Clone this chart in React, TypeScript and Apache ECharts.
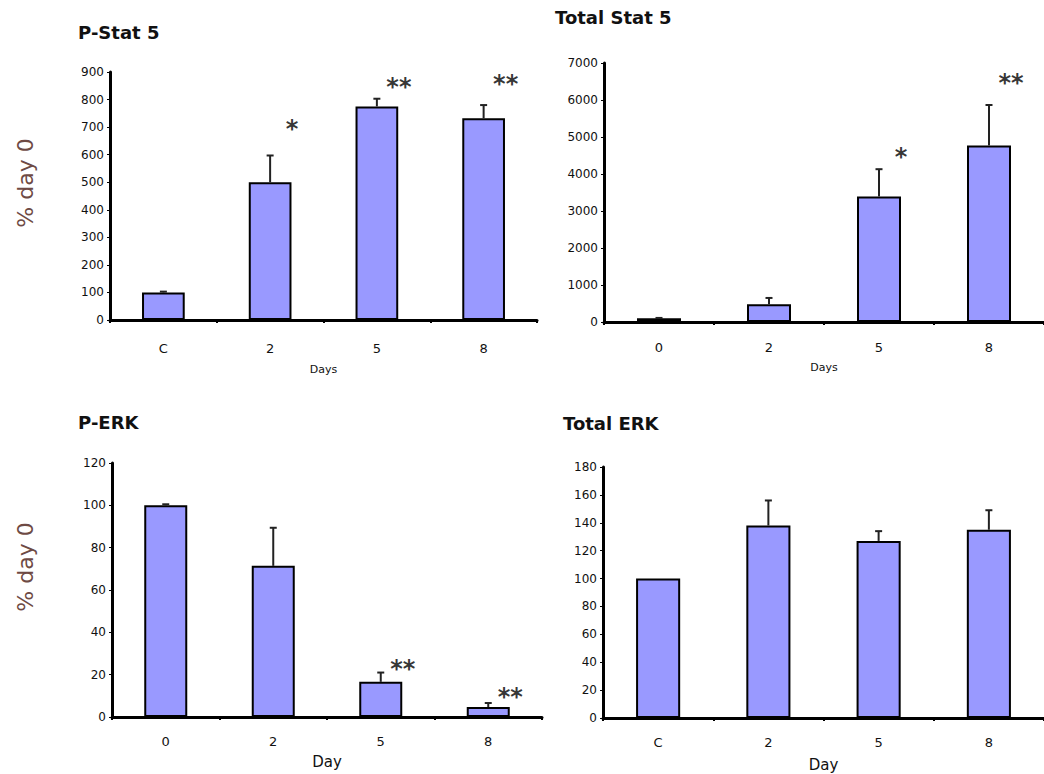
import React, { useEffect, useRef } from 'react';
import * as echarts from 'echarts';

// ---- Data ----
const pStat5Days = ['C', '2', '5', '8'];
const pStat5Mean = [100, 500, 775, 732];
const pStat5Sd = [3, 97, 28, 48];
const pStat5Stars = ['', '*', '**', '**'];
const pStat5StarY = [0, 715, 866, 880];

const totStat5Days = ['0', '2', '5', '8'];
const totStat5Mean = [100, 480, 3390, 4770];
const totStat5Sd = [10, 170, 740, 1095];
const totStat5Stars = ['', '', '*', '**'];
const totStat5StarY = [0, 0, 4610, 6620];

const pErkDays = ['0', '2', '5', '8'];
const pErkMean = [100, 71.4, 16.6, 4.7];
const pErkSd = [0.5, 18, 4.4, 1.9];
const pErkStars = ['', '', '**', '**'];
const pErkStarY = [0, 0, 25.3, 12.3];

const totErkDays = ['C', '2', '5', '8'];
const totErkMean = [100, 138, 127, 135];
const totErkSd = [0, 18, 7, 14];
const totErkStars = ['', '', '', ''];
const totErkStarY = [0, 0, 0, 0];

const yMax = [900, 7000, 120, 180];
const yInterval = [100, 1000, 20, 20];
const titles = ['P-Stat 5', 'Total Stat 5', 'P-ERK', 'Total ERK'];
const xNames = ['Days', 'Days', 'Day', 'Day'];
const yTitle = '% day 0';

const FONT = 'DejaVu Sans';

export default function App() {
  const ref = useRef<HTMLDivElement>(null);

  useEffect(() => {
    if (!ref.current) return;
    const chart = echarts.init(ref.current, null, { renderer: 'svg' });

    const panels = [
      { days: pStat5Days, mean: pStat5Mean, sd: pStat5Sd, stars: pStat5Stars, starY: pStat5StarY },
      { days: totStat5Days, mean: totStat5Mean, sd: totStat5Sd, stars: totStat5Stars, starY: totStat5StarY },
      { days: pErkDays, mean: pErkMean, sd: pErkSd, stars: pErkStars, starY: pErkStarY },
      { days: totErkDays, mean: totErkMean, sd: totErkSd, stars: totErkStars, starY: totErkStarY },
    ];

    const grids = [
      { left: 110, top: 72, width: 427, height: 248 },
      { left: 604, top: 63, width: 442, height: 259 },
      { left: 112, top: 463, width: 430, height: 254 },
      { left: 603, top: 467, width: 443, height: 251 },
    ];
    const labelMargins = [22, 19, 18, 18];
    const nameGaps = [44, 40, 37, 39];
    const nameSizes = [11, 11, 15, 15];
    const titlePos = [
      { left: 78, top: 23 },
      { left: 555, top: 8 },
      { left: 78, top: 413 },
      { left: 563, top: 414 },
    ];

    const xAxis: any[] = [];
    const yAxis: any[] = [];
    const series: any[] = [];
    const titleOpts: any[] = [];

    panels.forEach((p, i) => {
      titleOpts.push({
        text: titles[i],
        left: titlePos[i].left,
        top: titlePos[i].top,
        padding: 0,
        textStyle: { fontFamily: FONT, fontWeight: 'bold', fontSize: 18, color: '#111' },
      });
      xAxis.push({
        type: 'category',
        gridIndex: i,
        data: p.days,
        name: xNames[i],
        nameLocation: 'middle',
        nameGap: nameGaps[i],
        nameTextStyle: { fontFamily: FONT, fontSize: nameSizes[i], color: '#111' },
        axisLine: { show: true, lineStyle: { color: '#000', width: 3 } },
        axisTick: { show: true, length: 3, lineStyle: { color: '#000', width: 2 } },
        axisLabel: { fontFamily: FONT, fontSize: 13, color: '#111', margin: labelMargins[i] },
        z: 5,
      });
      yAxis.push({
        type: 'value',
        gridIndex: i,
        min: 0,
        max: yMax[i],
        interval: yInterval[i],
        splitLine: { show: false },
        axisLine: { show: true, lineStyle: { color: '#000', width: 3 } },
        axisTick: { show: true, length: 3, lineStyle: { color: '#000', width: 1 } },
        axisLabel: {
          fontFamily: FONT,
          fontSize: 12,
          color: '#111',
          margin: 6,
          formatter: (v: number) => String(v),
        },
        z: 5,
      });
      series.push({
        type: 'bar',
        xAxisIndex: i,
        yAxisIndex: i,
        data: p.mean,
        barWidth: '40%',
        itemStyle: { color: '#9999ff', borderColor: '#000', borderWidth: 2 },
        z: 2,
      });
      series.push({
        type: 'custom',
        xAxisIndex: i,
        yAxisIndex: i,
        data: p.mean.map((m, k) => [k, m, p.sd[k]]),
        z: 3,
        renderItem: (_params: any, api: any) => {
          const x = api.value(0);
          const m = api.value(1);
          const e = api.value(2);
          if (!e) return null;
          const p0 = api.coord([x, m]);
          const p1 = api.coord([x, m + e]);
          const st = { stroke: '#222', lineWidth: 2 };
          return {
            type: 'group',
            children: [
              { type: 'line', shape: { x1: p0[0], y1: p0[1], x2: p1[0], y2: p1[1] }, style: st },
              { type: 'line', shape: { x1: p1[0] - 3.5, y1: p1[1], x2: p1[0] + 3.5, y2: p1[1] }, style: st },
            ],
          };
        },
      });
      const starData = p.stars
        .map((s, k) => ({ s, k }))
        .filter((o) => o.s)
        .map((o) => ({ value: [o.k, p.starY[o.k]], name: o.s }));
      series.push({
        type: 'scatter',
        xAxisIndex: i,
        yAxisIndex: i,
        symbolSize: 1,
        itemStyle: { color: 'rgba(0,0,0,0)' },
        data: starData,
        z: 4,
        label: {
          show: true,
          formatter: '{b}',
          position: 'inside',
          fontFamily: FONT,
          fontWeight: 'bold',
          fontSize: 24,
          color: '#000',
          textBorderWidth: 0,
          offset: [22, 6],
        },
      });
    });

    chart.setOption({
      animation: false,
      backgroundColor: '#fff',
      title: titleOpts,
      grid: grids.map((g) => ({ ...g, containLabel: false })),
      xAxis,
      yAxis,
      series,
      graphic: [
        {
          type: 'text',
          x: 25,
          y: 183,
          rotation: Math.PI / 2,
          style: {
            text: yTitle,
            fontFamily: FONT,
            fontSize: 22,
            fill: '#6e4a44',
            align: 'center',
            verticalAlign: 'middle',
          },
        },
        {
          type: 'text',
          x: 25,
          y: 567,
          rotation: Math.PI / 2,
          style: {
            text: yTitle,
            fontFamily: FONT,
            fontSize: 22,
            fill: '#6e4a44',
            align: 'center',
            verticalAlign: 'middle',
          },
        },
      ],
    });

    return () => chart.dispose();
  }, []);

  return (
    <div
      ref={ref}
      style={{ position: 'fixed', left: 0, top: 0, width: 1044, height: 774, background: '#fff' }}
    />
  );
}
